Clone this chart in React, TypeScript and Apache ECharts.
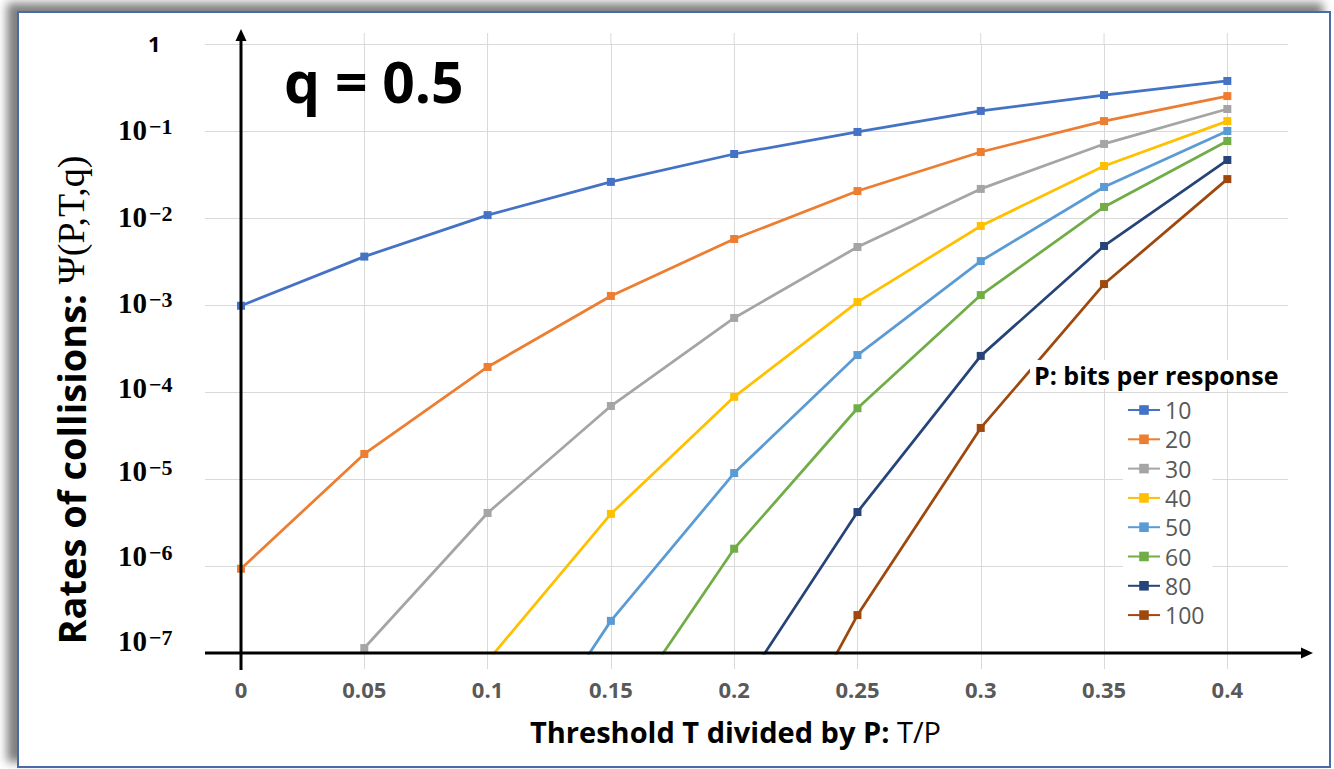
import React, { useEffect, useRef } from 'react';
import * as echarts from 'echarts';

// ---------- data ----------
const xValues = [0, 0.05, 0.1, 0.15, 0.2, 0.25, 0.3, 0.35, 0.4];
const xTickLabels = ['0', '0.05', '0.1', '0.15', '0.2', '0.25', '0.3', '0.35', '0.4'];
const yExponents = [-7, -6, -5, -4, -3, -2, -1, 0];
const seriesNames = ['10', '20', '30', '40', '50', '60', '80', '100'];
const seriesColors = ['#4472C4', '#ED7D31', '#A5A5A5', '#FFC000', '#5B9BD5', '#70AD47', '#264478', '#9E480E'];

const p10 = [9.8e-4, 3.6e-3, 0.0108, 0.026, 0.0544, 0.0975, 0.17, 0.259, 0.376];
const p20 = [9.3e-7, 1.94e-5, 1.94e-4, 1.27e-3, 5.74e-3, 0.0204, 0.0574, 0.13, 0.252];
const p30 = [null, 1.14e-7, 4.07e-6, 6.9e-5, 7.1e-4, 4.64e-3, 0.0216, 0.071, 0.179];
const p40 = [null, null, 8.1e-8, 3.97e-6, 8.8e-5, 1.08e-3, 8.1e-3, 0.0396, 0.13];
const p50 = [null, null, 1.7e-9, 2.34e-7, 1.17e-5, 2.66e-4, 3.2e-3, 0.0227, 0.1];
const p60 = [null, null, null, 1.3e-8, 1.58e-6, 6.5e-5, 1.3e-3, 0.0134, 0.0768];
const p80 = [null, null, null, null, 2.9e-8, 4.17e-6, 2.6e-4, 4.77e-3, 0.0464];
const p100 = [null, null, null, null, 6.6e-10, 2.73e-7, 3.86e-5, 1.74e-3, 0.028];
const seriesValues = [p10, p20, p30, p40, p50, p60, p80, p100];

const X_MIN = -0.0146;
const X_MAX = 0.4246;
const Y_MIN = 1e-7;
const Y_MAX = 1;

// how far each exponent label sits above its gridline (style)
const labelLift: Record<number, number> = { 1: 1, 2: 1, 3: 2, 4: 4, 5: 8, 6: 10, 7: 12 };

const SANS = "'Open Sans', 'Noto Sans', sans-serif";
const SERIF = "'Liberation Serif', 'DejaVu Serif', serif";

export default function App() {
  const ref = useRef<HTMLDivElement>(null);

  useEffect(() => {
    if (!ref.current) return;
    const chart = echarts.init(ref.current, undefined, { renderer: 'svg' });

    const rich: Record<string, any> = {
      one: { fontFamily: SANS, fontWeight: 'bold', fontSize: 22, color: '#000', padding: [0, 0, 2, 30] },
      b: { fontFamily: SERIF, fontWeight: 'bold', fontSize: 29, lineHeight: 30, color: '#000', verticalAlign: 'top' },
      s: { fontFamily: SERIF, fontWeight: 'bold', fontSize: 22, lineHeight: 14, color: '#000', verticalAlign: 'top', padding: [0, 0, 0, 2] },
    };
    for (let k = 1; k <= 7; k++) {
      rich['p' + k] = { fontSize: 1, lineHeight: 30 + 2 * labelLift[k], verticalAlign: 'top', color: 'rgba(0,0,0,0)' };
    }

    const series = seriesNames.map((name, i) => ({
      name,
      type: 'line',
      data: xValues
        .map((x, j) => [x, seriesValues[i][j]])
        .filter((d) => d[1] !== null && d[1] !== undefined),
      symbol: 'rect',
      symbolSize: 8,
      clip: true,
      color: seriesColors[i],
      lineStyle: { width: 2.75, color: seriesColors[i] },
      itemStyle: { color: seriesColors[i] },
      emphasis: { disabled: true },
    }));

    chart.setOption({
      animation: false,
      backgroundColor: 'transparent',
      grid: { left: 205, right: 46, top: 44, bottom: 116, containLabel: false },
      title: [
        {
          text: 'q = 0.5', left: 284, top: 52, padding: 0,
          textStyle: { fontFamily: SANS, fontWeight: 'bold', fontSize: 57, color: '#000' },
        },
        {
          text: 'P: bits per response', left: 1030, top: 360, padding: [2, 4, 2, 4],
          backgroundColor: '#fff',
          textStyle: { fontFamily: SANS, fontWeight: 'bold', fontSize: 25, color: '#000' },
        },
      ],
      legend: {
        orient: 'vertical', left: 1123, top: 396, padding: [2, 8, 2, 4],
        backgroundColor: '#fff',
        itemWidth: 32, itemHeight: 12, itemGap: 5.3,
        selectedMode: false,
        textStyle: { fontFamily: SANS, fontSize: 23, color: '#595959', lineHeight: 24 },
        data: seriesNames,
      },
      xAxis: {
        type: 'value', min: X_MIN, max: X_MAX,
        axisLine: { show: false, onZero: false },
        axisTick: { show: true, customValues: xValues, length: 16, lineStyle: { color: '#d9d9d9', width: 1 } },
        axisLabel: {
          customValues: xValues, margin: 25, color: '#595959', fontSize: 22, fontWeight: 'bold', fontFamily: SANS,
          formatter: (v: number) => {
            const idx = xValues.findIndex((x) => Math.abs(x - v) < 1e-9);
            return idx >= 0 ? xTickLabels[idx] : '';
          },
        },
        splitLine: { show: true, lineStyle: { color: '#d9d9d9', width: 1 } },
        name: '{b|Threshold T divided by P: }{n|T/P}',
        nameLocation: 'middle', nameGap: 64,
        nameTextStyle: {
          padding: [0, 22, 0, 0],
          rich: {
            b: { fontFamily: SANS, fontWeight: 'bold', fontSize: 29, color: '#000' },
            n: { fontFamily: SANS, fontWeight: 'normal', fontSize: 29, color: '#000' },
          },
        },
      },
      yAxis: {
        type: 'log', logBase: 10, min: Y_MIN, max: Y_MAX,
        axisLine: { show: false, onZero: false },
        axisTick: { show: false },
        splitLine: { show: true, lineStyle: { color: '#d9d9d9', width: 1 } },
        axisLabel: {
          align: 'left', margin: 87, rich,
          formatter: (v: number) => {
            const e = Math.round(Math.log10(v));
            if (!yExponents.includes(e)) return '';
            if (e === 0) return '{one|1}';
            return `{b|10}{s|−${-e}}{p${-e}| }`;
          },
        },
      },
      graphic: [
        {
          type: 'text', id: 'yname', x: 71, y: 400, rotation: Math.PI / 2,
          style: {
            text: '{b|Rates of collisions: }{s|Ψ(P,T,q)}',
            align: 'center', verticalAlign: 'middle',
            rich: {
              b: { fontFamily: SANS, fontWeight: 'bold', fontSize: 38, fill: '#000', color: '#000' },
              s: { fontFamily: SERIF, fontWeight: 'normal', fontSize: 38, fill: '#000', color: '#000' },
            },
          },
        },
      ],
      series,
    });

    const px = (x: number, y: number) => chart.convertToPixel({ gridIndex: 0 }, [x, y]) as number[];
    const [x0, yb] = px(0, Y_MIN);
    const [xl] = px(X_MIN, Y_MIN);
    const [xr] = px(X_MAX, Y_MIN);
    const [, yt] = px(0, Y_MAX);
    const ext: any[] = xValues.slice(1).map((x, i) => {
      const [gx] = px(x, Y_MAX);
      return {
        type: 'line', id: 'vg' + i, z: 0,
        shape: { x1: gx, y1: yt - 11, x2: gx, y2: yt },
        style: { stroke: '#d9d9d9', lineWidth: 1 },
      };
    });
    chart.setOption({
      graphic: [
        ...ext,
        { type: 'line', id: 'xaxis', z: 10, shape: { x1: xl, y1: yb, x2: xr + 15, y2: yb }, style: { stroke: '#000', lineWidth: 3 } },
        { type: 'polygon', id: 'xarrow', z: 10, shape: { points: [[xr + 25, yb], [xr + 13, yb - 5.5], [xr + 13, yb + 5.5]] }, style: { fill: '#000' } },
        { type: 'line', id: 'yaxis', z: 10, shape: { x1: x0, y1: yb + 17, x2: x0, y2: yt - 5 }, style: { stroke: '#000', lineWidth: 3 } },
        { type: 'polygon', id: 'yarrow', z: 10, shape: { points: [[x0, yt - 15], [x0 - 5.5, yt - 3], [x0 + 5.5, yt - 3]] }, style: { fill: '#000' } },
      ],
    });

    return () => chart.dispose();
  }, []);

  return (
    <div style={{ position: 'fixed', left: 0, top: 0, width: 1334, height: 769, background: '#fff', overflow: 'hidden' }}>
      <div
        style={{
          position: 'absolute', left: 17, top: 11, width: 1314, height: 757, boxSizing: 'border-box',
          border: '2px solid #4A6BA5', background: '#fff',
          boxShadow: '-9px -7px 9px 1px rgba(0,0,0,0.5)',
        }}
      />
      <div ref={ref} style={{ position: 'absolute', left: 0, top: 0, width: 1334, height: 769 }} />
    </div>
  );
}
